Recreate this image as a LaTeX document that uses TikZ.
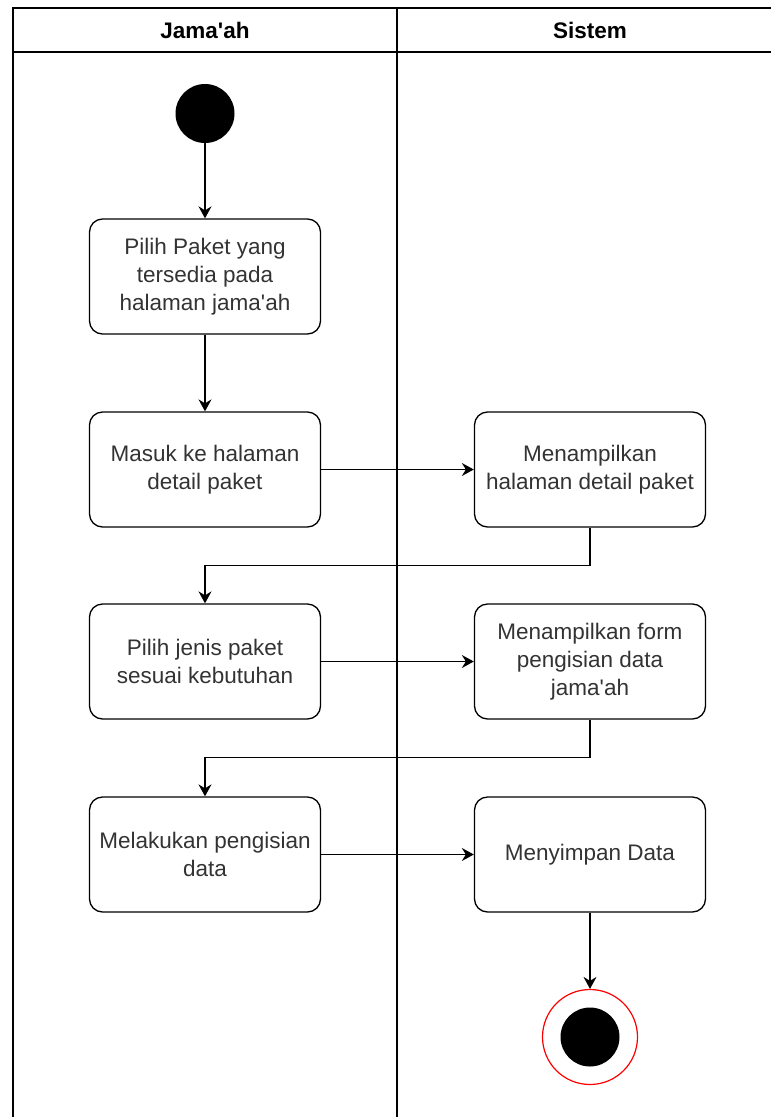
\documentclass[tikz,border=0pt]{standalone}
\usepackage{fontspec}
\setmainfont{Liberation Sans}
\usetikzlibrary{arrows.meta}
\tikzset{
activity/.style={
	  draw, rounded corners=13pt, line width=1.3pt, align=center,
	    minimum width=231pt, minimum height=115pt, text=black!80,
    font=\fontsize{22.5}{28}\selectfont},
flow/.style={-{Stealth[length=12pt,width=13pt,inset=4pt]}, line width=1.3pt},
lane/.style={line width=1.6pt},
lanetitle/.style={font=\bfseries\fontsize{22.5}{28}\selectfont}
}
\newcommand{\apos}{\textquotesingle}

\begin{document}
\begin{tikzpicture}[x=1pt, y=-1pt]
	\useasboundingbox (0,0) rectangle (771,1117);
	% swimlanes
	\draw[lane] (13,1117) |- (771,8);
	\draw[lane] (13,52) -- (771,52);
	\draw[lane] (397,8) -- (397,1117);
	\node[lanetitle] (jamaah) at (205,30) {Jama\apos ah};
	\node[lanetitle] (sistem) at (590,30) {Sistem};
	% activities
	\node[circle, fill, minimum size=59pt, inner sep=0] (start) at (205,113.5) {};
	\node[activity] (pilih) at (205,276.5) {Pilih Paket yang\\tersedia pada\\halaman jama\apos ah};
	\node[activity] (masuk) at (205,469.5) {Masuk ke halaman\\detail paket};
	\node[activity] (tampil) at (590,469.5) {Menampilkan\\halaman detail paket};
	\node[activity] (jenis) at (205,661.5) {Pilih jenis paket\\sesuai kebutuhan};
	\node[activity] (form) at (590,661.5) {Menampilkan form\\pengisian data\\jama\apos ah};
	\node[activity] (isi) at (205,854.5) {Melakukan pengisian\\data};
	\node[activity] (simpan) at (590,854.5) {Menyimpan Data};
	\node[circle, draw=red, line width=1.2pt, minimum size=95pt, inner sep=0] (selesai) at (590,1037) {};
	\node[circle, fill, minimum size=59pt, inner sep=0] (selesaiin) at (selesai) {};
	% flows
	\draw[flow] (start) -- (pilih);
	\draw[flow] (pilih) -- (masuk);
	\draw[flow] (masuk) -- (tampil);
	\draw[flow] (tampil.south) -- ++(0,38) -| (jenis.north);
	\draw[flow] (jenis) -- (form);
	\draw[flow] (form.south) -- ++(0,38) -| (isi.north);
	\draw[flow] (isi) -- (simpan);
	\draw[flow] (simpan) -- (selesai);
\end{tikzpicture}
\end{document}
